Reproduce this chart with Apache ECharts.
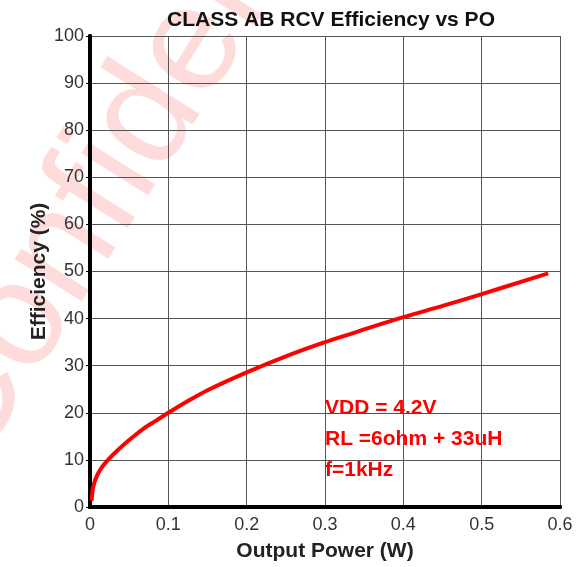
<!DOCTYPE html>
<html><head><meta charset="utf-8">
<script src="https://cdn.jsdelivr.net/npm/echarts@6/dist/echarts.min.js"></script>
<style>html,body{margin:0;padding:0;background:#fff}#c{width:583px;height:567px}</style>
</head><body><div id="c"></div>
<script>
const outputPower = [0.002, 0.004, 0.0085, 0.015, 0.023, 0.035, 0.047, 0.068, 0.085, 0.1, 0.125, 0.15, 0.2, 0.25, 0.3, 0.35, 0.4, 0.45, 0.5, 0.55, 0.585];
const efficiency = [1.3, 4.2, 6.5, 8.4, 10, 12, 13.8, 16.6, 18.4, 20, 22.5, 24.8, 28.6, 32, 35, 37.7, 40.3, 42.7, 45.2, 47.8, 49.6];
const annotations = ["VDD = 4.2V", "RL =6ohm + 33uH", "f=1kHz"];

const chart = echarts.init(document.getElementById('c'), null, {renderer: 'canvas'});
const font = 'Arial, "Liberation Sans", sans-serif';
const borderOnly = {show: true, lineStyle: {color: '#000', width: 4}};
chart.setOption({
  animation: false,
  title: {text: 'CLASS AB RCV Efficiency vs PO', left: 326, top: 5, textAlign: 'center',
    textStyle: {fontFamily: font, fontSize: 21, fontWeight: 'bold', color: '#111'}},
  grid: {left: 90, right: 23, top: 36, bottom: 59},
  xAxis: [{type: 'value', min: 0, max: 0.6, interval: 0.1,
    name: 'Output Power (W)', nameLocation: 'middle', nameGap: 34,
    nameTextStyle: {fontFamily: font, fontSize: 21, fontWeight: 'bold', color: '#222'},
    axisLine: borderOnly, axisTick: {show: false},
    axisLabel: {fontFamily: font, fontSize: 18, color: '#333', margin: 9, formatter: v => String(+v.toFixed(1))},
    splitLine: {show: true, lineStyle: {color: '#555', width: 1}}},
   {type: 'value', position: 'top', min: 0, max: 0.6, interval: 0.1,
    axisLine: borderOnly, axisTick: {show: false}, axisLabel: {show: false}, splitLine: {show: false}}],
  yAxis: [{type: 'value', min: 0, max: 100, interval: 10,
    name: 'Efficiency (%)', nameLocation: 'middle', nameGap: 40, nameMoveOverlap: false,
    nameTextStyle: {fontFamily: font, fontSize: 21, fontWeight: 'bold', color: '#222'},
    axisLine: borderOnly, axisTick: {show: true, length: 4, lineStyle: {color: '#000'}},
    axisLabel: {fontFamily: font, fontSize: 18, color: '#333', margin: 6},
    splitLine: {show: true, lineStyle: {color: '#555', width: 1}}},
   {type: 'value', position: 'right', min: 0, max: 100, interval: 10,
    axisLine: borderOnly, axisTick: {show: false}, axisLabel: {show: false}, splitLine: {show: false}}],
  series: [{type: 'line', data: outputPower.map((x, i) => [x, efficiency[i]]), smooth: 0.3,
    symbol: 'none', lineStyle: {color: '#ff0000', width: 4}, z: 5}]
});
const p0 = chart.convertToPixel({xAxisIndex: 0, yAxisIndex: 0}, [0.3, 20]);
const graphics = [
  {type: 'text', id: 'wm', z: -10, silent: true, x: 150, y: 115, rotation: 1.01,
   style: {text: 'Confidential', font: '150px Arial, "Liberation Sans", sans-serif', fill: 'rgba(255,40,40,0.16)', textAlign: 'center', textVerticalAlign: 'middle'}}
].concat(annotations.map((t, i) => ({type: 'text', id: 'a' + i, x: p0[0], y: 408 + i * 31, z: 20,
  style: {text: t, font: 'bold 21px Arial, "Liberation Sans", sans-serif', fill: '#ff0000', textVerticalAlign: 'middle'}})));
chart.setOption({graphic: graphics});
</script></body></html>
